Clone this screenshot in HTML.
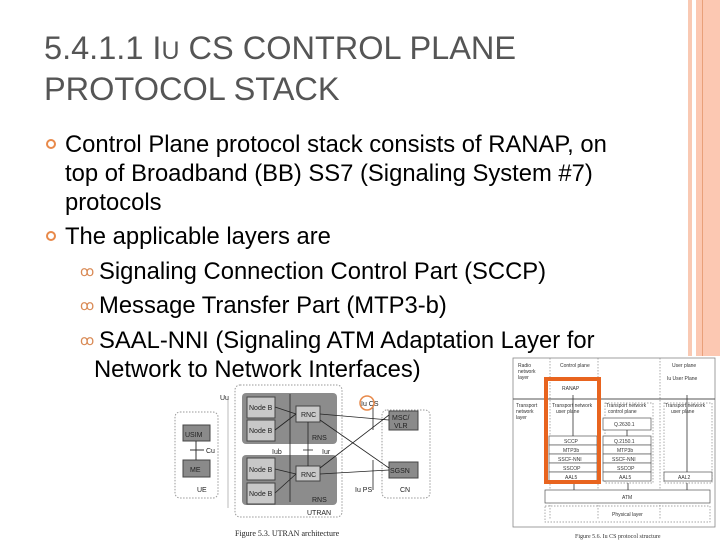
<!DOCTYPE html>
<html><head><meta charset="utf-8"><style>
body{margin:0;width:720px;height:540px;overflow:hidden;background:#fff;position:relative;font-family:"Liberation Sans",sans-serif}
.a{position:absolute;white-space:nowrap}
.t{color:#555;font-size:32.5px;left:44px}
.b{color:#000;font-size:23.8px}
.dot{position:absolute;width:6px;height:6px;border:2.5px solid #e8894a;border-radius:50%}
.sb{color:#d98a55;font-size:14px}
</style></head><body>
<div style="position:absolute;left:688px;top:0;width:4px;height:356px;background:#f9c9b3"></div>
<div style="position:absolute;left:696px;top:0;width:24px;height:356px;background:#fcc8b2"></div>
<div style="position:absolute;left:702px;top:0;width:1px;height:356px;background:#e9a07a"></div>
<div class="a t" style="top:30px">5.4.1.1 I<span style="font-size:25px">U</span> CS CONTROL PLANE</div>
<div class="a t" style="top:71px">PROTOCOL STACK</div>
<div class="dot" style="left:46px;top:139px"></div>
<div class="dot" style="left:46px;top:231px"></div>
<div class="a b" style="left:65px;top:131px">Control Plane protocol stack consists of RANAP, on</div>
<div class="a b" style="left:65px;top:160px">top of Broadband (BB) SS7 (Signaling System #7)</div>
<div class="a b" style="left:65px;top:189px">protocols</div>
<div class="a b" style="left:65px;top:223px">The applicable layers are</div>
<div class="a sb" style="left:80px;top:263px">ꝏ</div>
<div class="a sb" style="left:80px;top:297px">ꝏ</div>
<div class="a sb" style="left:80px;top:332px">ꝏ</div>
<div class="a b" style="left:99px;top:258px">Signaling Connection Control Part (SCCP)</div>
<div class="a b" style="left:99px;top:292px">Message Transfer Part (MTP3-b)</div>
<div class="a b" style="left:99px;top:327px">SAAL-NNI (Signaling ATM Adaptation Layer for</div>
<div class="a b" style="left:94px;top:356px">Network to Network Interfaces)</div>

<svg style="position:absolute;left:0;top:0" width="720" height="540" font-family="Liberation Sans" font-size="8">
<g fill="none" stroke="#999" stroke-dasharray="1.5,1.5">
<rect x="175" y="412" width="43" height="86" rx="5"/>
<rect x="235" y="385" width="107" height="132" rx="5"/>
<rect x="382" y="410" width="48" height="88" rx="5"/>
</g>
<line x1="228" y1="400" x2="228" y2="508" stroke="#bbb"/>
<rect x="183" y="425" width="27" height="16" fill="#8a8a8a" stroke="#444"/>
<rect x="183" y="460" width="27" height="17" fill="#8a8a8a" stroke="#444"/>
<line x1="196" y1="441" x2="196" y2="460" stroke="#333"/>
<line x1="190" y1="450" x2="204" y2="450" stroke="#333"/>
<rect x="242" y="393" width="95" height="51" rx="4" fill="#8c8c8c"/>
<rect x="242" y="455" width="95" height="50" rx="4" fill="#8c8c8c"/>
<g fill="#c8c8c8" stroke="#444">
<rect x="247" y="397" width="28" height="21"/><rect x="247" y="420" width="28" height="21"/>
<rect x="247" y="458" width="28" height="22"/><rect x="247" y="483" width="28" height="21"/>
<rect x="296" y="406" width="24" height="16"/><rect x="296" y="466" width="24" height="15"/>
</g>
<rect x="389" y="411" width="29" height="19" fill="#8a8a8a" stroke="#444"/>
<rect x="389" y="462" width="29" height="16" fill="#8a8a8a" stroke="#444"/>
<g stroke="#222" stroke-width="0.8">
<line x1="290" y1="394" x2="290" y2="502"/>
<line x1="308" y1="422" x2="308" y2="466"/>
<line x1="303" y1="450" x2="313" y2="450"/>
<line x1="275" y1="407" x2="296" y2="414"/><line x1="275" y1="430" x2="296" y2="414"/>
<line x1="275" y1="469" x2="296" y2="474"/><line x1="275" y1="493" x2="296" y2="474"/>
<line x1="320" y1="414" x2="389" y2="420"/><line x1="320" y1="474" x2="389" y2="470"/>
<line x1="320" y1="420" x2="389" y2="468"/><line x1="320" y1="468" x2="389" y2="415"/>
<line x1="373" y1="405" x2="373" y2="430"/><line x1="373" y1="460" x2="373" y2="490"/>
</g>
<g fill="#222" font-size="7">
<text x="220" y="400">Uu</text><text x="185" y="437">USIM</text><text x="190" y="472">ME</text>
<text x="206" y="453">Cu</text><text x="197" y="492">UE</text>
<text x="249" y="410">Node B</text><text x="249" y="433">Node B</text>
<text x="249" y="472">Node B</text><text x="249" y="496">Node B</text>
<text x="301" y="417">RNC</text><text x="301" y="477">RNC</text>
<text x="312" y="440">RNS</text><text x="312" y="502">RNS</text>
<text x="272" y="454">Iub</text><text x="322" y="454">Iur</text>
<text x="392" y="420">MSC/</text><text x="394" y="428">VLR</text><text x="390" y="473">SGSN</text>
<text x="400" y="492">CN</text><text x="355" y="492">Iu PS</text><text x="361" y="406">Iu CS</text>
<text x="307" y="515">UTRAN</text>
</g>
<circle cx="367" cy="403" r="7" fill="none" stroke="#e8894a" stroke-width="1.5"/>
<text x="235" y="536" font-family="Liberation Serif" font-size="8" fill="#222">Figure 5.3.  UTRAN architecture</text>

<rect x="513" y="358" width="202" height="169" fill="none" stroke="#888" stroke-width="0.8"/>
<line x1="513" y1="399" x2="715" y2="399" stroke="#555"/>
<g fill="none" stroke="#888" stroke-dasharray="1.5,1.5" stroke-width="0.7">
<line x1="550" y1="358" x2="550" y2="520"/><line x1="598" y1="358" x2="598" y2="520"/>
<line x1="660" y1="358" x2="660" y2="520"/>
<rect x="605" y="403" width="48" height="80"/><rect x="664" y="403" width="48" height="80"/>
<rect x="545" y="506" width="165" height="16"/>
</g>
<g fill="#fff" stroke="#555" stroke-width="0.7">
<rect x="549" y="436" width="48" height="9"/><rect x="549" y="445" width="48" height="9"/>
<rect x="549" y="454" width="48" height="9"/><rect x="549" y="463" width="48" height="9"/>
<rect x="549" y="472" width="48" height="9"/>
<rect x="603" y="418" width="48" height="12"/><rect x="603" y="436" width="48" height="9"/>
<rect x="603" y="445" width="48" height="9"/><rect x="603" y="454" width="48" height="9"/>
<rect x="603" y="463" width="48" height="9"/><rect x="603" y="472" width="48" height="9"/>
<rect x="664" y="472" width="48" height="9"/>
<rect x="545" y="490" width="165" height="13"/>
</g>
<g stroke="#333" stroke-width="0.8">
<line x1="573" y1="395" x2="573" y2="436"/><line x1="574" y1="483" x2="574" y2="490"/>
<line x1="628" y1="483" x2="628" y2="490"/><line x1="687" y1="483" x2="687" y2="490"/>
<line x1="687" y1="395" x2="687" y2="472"/><line x1="627" y1="430" x2="627" y2="436"/>
</g>
<g fill="#333" font-size="5">
<text x="518" y="367">Radio</text><text x="518" y="373">network</text><text x="518" y="379">layer</text>
<text x="560" y="367">Control plane</text><text x="672" y="367">User plane</text>
<text x="562" y="390">RANAP</text><text x="667" y="380">Iu User Plane</text>
<text x="516" y="407">Transport</text><text x="516" y="413">network</text><text x="516" y="419">layer</text>
<text x="552" y="407">Transport network</text><text x="556" y="413">user plane</text>
<text x="606" y="407">Transport network</text><text x="608" y="413">control plane</text>
<text x="665" y="407">Transport network</text><text x="671" y="413">user plane</text>
<text x="614" y="426">Q.2630.1</text>
<text x="564" y="443">SCCP</text><text x="563" y="452">MTP3b</text><text x="558" y="461">SSCF-NNI</text>
<text x="563" y="470">SSCOP</text><text x="565" y="479">AAL5</text>
<text x="614" y="443">Q.2150.1</text><text x="617" y="452">MTP3b</text><text x="612" y="461">SSCF-NNI</text>
<text x="617" y="470">SSCOP</text><text x="619" y="479">AAL5</text><text x="678" y="479">AAL2</text>
<text x="622" y="499">ATM</text><text x="612" y="516">Physical layer</text>
</g>
<rect x="546" y="379" width="53" height="103" fill="none" stroke="#e8641f" stroke-width="4"/>
<text x="575" y="538" font-family="Liberation Serif" font-size="6" fill="#333">Figure 5.6.  Iu CS protocol structure</text>
</svg>
</body></html>
